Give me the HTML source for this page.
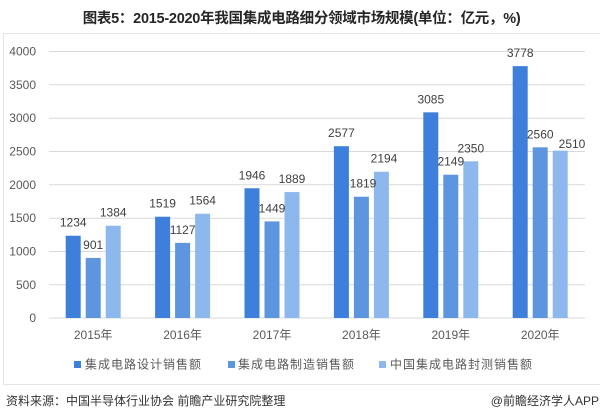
<!DOCTYPE html>
<html>
<head>
<meta charset="utf-8">
<style>
  html, body { margin:0; padding:0; background:#fff; }
  body { width:600px; height:420px; overflow:hidden; position:relative; font-family:"Liberation Sans","Noto Sans CJK SC",sans-serif; }
  svg { position:absolute; left:0; top:0; }
</style>
</head>
<body>
<svg width="600" height="420" viewBox="0 0 600 420" xmlns="http://www.w3.org/2000/svg" font-family="Liberation Sans, Noto Sans CJK SC, sans-serif">
  <rect x="0" y="0" width="600" height="420" fill="#ffffff"/>
  <!-- title -->
  <text x="82.7" y="23" font-size="14.5" font-weight="bold" fill="#262626" textLength="438" lengthAdjust="spacing">图表5：2015-2020年我国集成电路细分领域市场规模(单位：亿元，%)</text>
  <!-- chart box -->
  <rect x="3.5" y="33.5" width="602" height="351" fill="#ffffff" stroke="#e4e4e4" stroke-width="1"/>
  <!-- gridlines -->
  <g stroke="#d9d9d9" stroke-width="1">
    <line x1="49" x2="585" y1="51.5" y2="51.5"/>
    <line x1="49" x2="585" y1="84.8" y2="84.8"/>
    <line x1="49" x2="585" y1="118.2" y2="118.2"/>
    <line x1="49" x2="585" y1="151.5" y2="151.5"/>
    <line x1="49" x2="585" y1="184.8" y2="184.8"/>
    <line x1="49" x2="585" y1="218.2" y2="218.2"/>
    <line x1="49" x2="585" y1="251.5" y2="251.5"/>
    <line x1="49" x2="585" y1="284.8" y2="284.8"/>
    <line x1="49" x2="585" y1="318" y2="318"/>
  </g>
  <!-- y labels -->
  <g font-size="12" fill="#595959" text-anchor="end">
    <text x="36" y="55.5">4000</text>
    <text x="36" y="88.8">3500</text>
    <text x="36" y="122.2">3000</text>
    <text x="36" y="155.5">2500</text>
    <text x="36" y="188.8">2000</text>
    <text x="36" y="222.2">1500</text>
    <text x="36" y="255.5">1000</text>
    <text x="36" y="288.8">500</text>
    <text x="36" y="322">0</text>
  </g>
  <!-- bars: design -->
  <g fill="#3d7fdb">
    <rect x="65.7" y="235.73" width="15" height="82.27"/>
    <rect x="155.1" y="216.73" width="15" height="101.27"/>
    <rect x="244.5" y="188.27" width="15" height="129.73"/>
    <rect x="333.9" y="146.2" width="15" height="171.8"/>
    <rect x="423.3" y="112.33" width="15" height="205.67"/>
    <rect x="512.7" y="66.13" width="15" height="251.87"/>
  </g>
  <!-- bars: manufacturing -->
  <g fill="#5d95df">
    <rect x="85.7" y="257.93" width="15" height="60.07"/>
    <rect x="175.1" y="242.87" width="15" height="75.13"/>
    <rect x="264.5" y="221.4" width="15" height="96.6"/>
    <rect x="353.9" y="196.73" width="15" height="121.27"/>
    <rect x="443.3" y="174.73" width="15" height="143.27"/>
    <rect x="532.7" y="147.33" width="15" height="170.67"/>
  </g>
  <!-- bars: packaging -->
  <g fill="#8cb8ee">
    <rect x="105.7" y="225.73" width="15" height="92.27"/>
    <rect x="195.1" y="213.73" width="15" height="104.27"/>
    <rect x="284.5" y="192.07" width="15" height="125.93"/>
    <rect x="373.9" y="171.73" width="15" height="146.27"/>
    <rect x="463.3" y="161.33" width="15" height="156.67"/>
    <rect x="552.7" y="150.67" width="15" height="167.33"/>
  </g>
  <!-- data labels -->
  <g font-size="12" fill="#404040" text-anchor="middle">
    <text x="73.2" y="226.7">1234</text>
    <text x="162.6" y="207.7">1519</text>
    <text x="252" y="179.3">1946</text>
    <text x="341.4" y="137.2">2577</text>
    <text x="430.8" y="103.3">3085</text>
    <text x="520.2" y="57.1">3778</text>

    <text x="93.2" y="248.9">901</text>
    <text x="182.6" y="233.9">1127</text>
    <text x="272" y="212.4">1449</text>
    <text x="363" y="187.7">1819</text>
    <text x="450.8" y="165.7">2149</text>
    <text x="540.2" y="138.3">2560</text>

    <text x="113.2" y="216.7">1384</text>
    <text x="202.6" y="204.7">1564</text>
    <text x="292" y="183.1">1889</text>
    <text x="384" y="162.7">2194</text>
    <text x="470.8" y="152.3">2350</text>
    <text x="572" y="148">2510</text>
  </g>
  <!-- category labels -->
  <g font-size="12" fill="#595959" text-anchor="middle">
    <text x="93.2" y="339">2015年</text>
    <text x="182.6" y="339">2016年</text>
    <text x="272" y="339">2017年</text>
    <text x="361.4" y="339">2018年</text>
    <text x="450.8" y="339">2019年</text>
    <text x="540.2" y="339">2020年</text>
  </g>
  <!-- legend -->
  <g font-size="12" fill="#595959" letter-spacing="1">
    <rect x="74" y="361" width="7" height="7" fill="#3d7fdb"/>
    <text x="85" y="368.5">集成电路设计销售额</text>
    <rect x="228" y="361" width="7" height="7" fill="#5d95df"/>
    <text x="238" y="368.5">集成电路制造销售额</text>
    <rect x="379" y="361" width="7" height="7" fill="#8cb8ee"/>
    <text x="390" y="368.5">中国集成电路封测销售额</text>
  </g>
  <!-- footer -->
  <text x="6" y="405" font-size="12" fill="#333333">资料来源：中国半导体行业协会 前瞻产业研究院整理</text>
  <text x="599" y="405" font-size="12" fill="#333333" text-anchor="end">@前瞻经济学人APP</text>
</svg>
</body>
</html>
